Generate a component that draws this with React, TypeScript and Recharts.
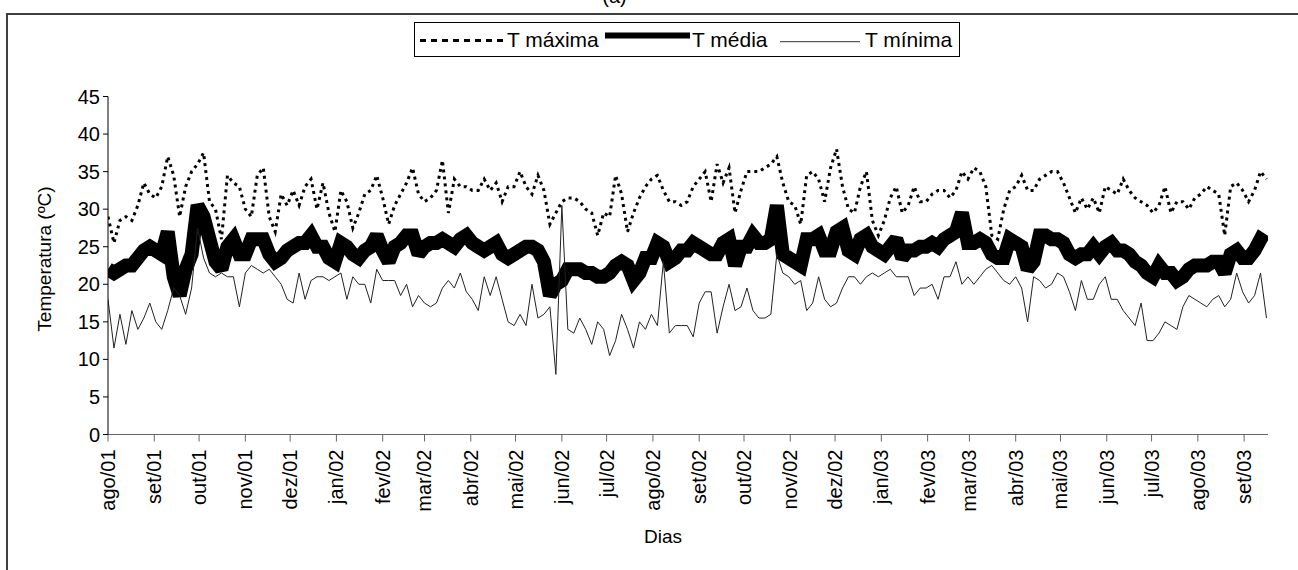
import React from 'react';
import { LineChart, Line, XAxis, YAxis } from 'recharts';

// série começa em 01/ago/2001, um valor a cada 4 dias
const START_YEAR = 2001;
const START_MONTH = 7;
const STEP_DAYS = 4;
const LAST_DAY = 777;

const monthLabels = [
  'ago/01', 'set/01', 'out/01', 'nov/01', 'dez/01', 'jan/02', 'fev/02', 'mar/02', 'abr/02',
  'mai/02', 'jun/02', 'jul/02', 'ago/02', 'set/02', 'out/02', 'nov/02', 'dez/02', 'jan/03',
  'fev/03', 'mar/03', 'abr/03', 'mai/03', 'jun/03', 'jul/03', 'ago/03', 'set/03',
];

const yTicks = [0, 5, 10, 15, 20, 25, 30, 35, 40, 45];

const tMax = [
  29, 25.5, 28.5, 29, 28.5, 30.5, 33.5, 32, 31.5, 33,
  37, 34.5, 29, 33, 35, 36, 37.5, 31, 30, 26,
  34.5, 33.5, 33, 30, 29, 34.5, 35.5, 29, 27, 32,
  30.5, 32.5, 30.5,
  33, 34, 30, 33.5, 29.5, 27, 32.5, 31, 27.5, 29.5,
  32, 32.5, 34.5, 31.5, 28, 30.5, 32, 33.5, 35.5, 32,
  31, 31.5, 32.5, 36.5, 29.5, 34, 33, 33, 32.5, 32.5,
  34,
  32.5, 33.5, 31, 33, 33, 35, 33, 32, 34.5, 32.5,
  28, 29.5, 31, 31.5, 31.5, 31, 30, 29.5, 26.5, 29.5,
  29, 34.5, 32, 27, 29.5, 31.5, 33, 34, 34.5, 32.5,
  31, 31,
  30.5, 31, 33, 34, 35, 31, 36, 33.5, 35.5, 29.5,
  32.5, 35, 35, 35, 35.5, 36, 37, 33.5, 31, 30.5,
  28, 34.5, 35, 34, 31, 35.5, 38, 33, 30, 29.5,
  33, 35,
  28.5, 26.5, 28.5, 31.5, 33, 29.5, 30.5, 33, 31, 31,
  32, 32.5, 32.5, 31.5, 32.5, 35, 34, 35.5, 35, 33,
  26.5, 26, 30, 32.5, 33, 34.5, 32.5, 32.5, 34, 34.5,
  35, 35, 33.5, 31.5, 29.5, 31.5, 30, 31.5, 29.5, 33,
  32.5, 32, 34, 32.5, 31.5, 31, 30.5, 29.5, 30.5, 33,
  29.5, 31, 31, 30, 31.5, 32, 33, 32.5, 32, 26.5,
  33, 33.5, 32.5, 31, 32.5, 35, 34,
];

const tMedia = [
  22, 21.5, 22, 22.5, 22.5, 23.5, 24.5, 25, 24.5, 24,
  27, 21, 18.5, 22, 24, 30.5, 29, 26, 23, 22,
  25, 26, 24, 24, 26, 26, 26, 24, 23, 23.5,
  24.5, 25, 25.5,
  25.5, 26.5, 25, 25, 23.5, 23, 25.5, 25, 24, 23.5,
  24.5, 25, 26.5, 24.5, 23, 25, 25.5, 26.5, 26.5, 24,
  25, 25.5, 25.5, 26, 25.5, 25, 26, 26.5, 25.5, 25,
  24.5,
  25, 25.5, 24, 23.5, 24, 24.5, 25, 25, 24.5, 23,
  18.5, 20, 20.5, 22, 22, 22, 21.5, 21.5, 21, 21,
  21.5, 22.5, 23, 22.5, 20.5, 21.5, 23.5, 23.5, 25.5, 25,
  23, 23.5,
  24.5, 24.5, 25.5, 25, 24.5, 24, 24, 25.5, 26, 22.5,
  25, 25, 26.5, 25.5, 25.5, 26, 30.5, 24, 23.5, 23,
  22.5, 26, 26, 26.5, 24.5, 24.5, 27, 27.5, 24.5, 24,
  26, 26.5,
  25, 24.5, 24, 25, 26, 23.5, 24.5, 24.5, 25, 25,
  25.5, 25, 26, 26.5, 27, 29.5, 25.5, 25.5, 26, 25.5,
  24, 23.5, 23.5, 26, 25.5, 25, 22, 23, 26.5, 26.5,
  26, 26, 25.5, 24, 23.5, 24, 24, 25, 24, 25,
  25.5, 24.5, 24.5, 24, 23, 22.5, 21.5, 21, 22.5, 21.5,
  21.5, 20.5, 21, 22, 22.5, 22.5, 22.5, 23, 23, 21.5,
  24, 24.5, 23.5, 23.5, 24.5, 26, 25.5,
];

const tMin = [
  18, 11.5, 16, 12, 16.5, 14, 15.5, 17.5, 15, 14,
  16.5, 19.5, 18.5, 16, 19.5, 27.5, 23.5, 21.5, 21, 21.5,
  21, 21, 17, 21.5, 22.5, 22, 21.5, 22, 21, 20,
  18, 17.5, 21.5,
  18, 20.5, 21, 21, 20.5, 21, 21.5, 18, 21, 20,
  20, 17.5, 22, 20.5, 20.5, 20.5, 18.5, 20, 17, 18.5,
  17.5, 17, 17.5, 19.5, 20.5, 19.5, 21.5, 19, 18, 16.5,
  21,
  18.5, 21, 18, 15, 14.5, 16, 14.5, 20, 15.5, 16,
  17, 8, 30.5, 14, 13.5, 15.5, 14, 12, 15, 14,
  10.5, 12.5, 16, 14, 11.5, 15, 14, 16, 14.5, 23,
  13.5, 14.5,
  14.5, 14.5, 13, 17.5, 19, 19, 13.5, 17, 20, 16.5,
  17, 19.5, 16.5, 15.5, 15.5, 16, 24, 21.5, 21, 20,
  20.5, 16.5, 17.5, 21, 18, 17, 17.5, 19.5, 21, 21,
  20, 21,
  21.5, 21, 21.5, 22, 21, 21, 21, 18.5, 19.5, 19.5,
  20, 18, 21, 21, 23, 20, 21, 20, 21, 22,
  22.5, 21.5, 20.5, 20, 21, 19.5, 15, 21, 20.5, 19.5,
  20, 21.5, 21, 19, 16.5, 20.5, 18, 18, 20, 21,
  18, 18, 16.5, 15.5, 14.5, 17.5, 12.5, 12.5, 13.5, 15,
  14.5, 14, 17, 18.5, 18, 17.5, 17, 18, 18.5, 17,
  18, 21.5, 19, 17.5, 18.5, 21.5, 15.5,
];

const FONT = '"Liberation Sans", Arial, Helvetica, sans-serif';

const dayOfMonthStart = (i: number) =>
  Math.round((Date.UTC(START_YEAR, START_MONTH + i, 1) - Date.UTC(START_YEAR, START_MONTH, 1)) / 86400000);

const monthTicks = monthLabels.map((_, i) => dayOfMonthStart(i));

const chartData = tMax.map((v, i) => ({
  day: i * STEP_DAYS,
  max: v,
  media: tMedia[i],
  min: tMin[i],
}));

const MonthTick = (props: any) => {
  const { x, y, payload } = props;
  const idx = monthTicks.indexOf(payload.value);
  return (
    <g transform={`translate(${x},${y})`}>
      <text
        transform="rotate(-90)"
        textAnchor="end"
        dy="0.35em"
        fontSize={20}
        fontFamily={FONT}
        fill="#000"
      >
        {monthLabels[idx]}
      </text>
    </g>
  );
};

export default function App() {
  return (
    <div style={{ position: 'fixed', left: 0, top: 0, width: 1298, height: 570, overflow: 'hidden', background: '#fff' }}>
      <div style={{ position: 'absolute', left: 0, top: 0 }}>
        <LineChart
          width={1298}
          height={570}
          data={chartData}
          margin={{ top: 96.5, right: 30, left: 0, bottom: 35.5 }}
          style={{ fontFamily: FONT }}
        >
          <XAxis
            type="number"
            dataKey="day"
            domain={[0, LAST_DAY]}
            ticks={monthTicks}
            interval={0}
            tick={MonthTick}
            tickSize={7}
            tickMargin={8}
            height={100}
            stroke="#666"
            allowDataOverflow
          />
          <YAxis
            domain={[0, 45]}
            ticks={yTicks}
            interval={0}
            width={108}
            tickSize={5}
            tickMargin={3}
            tick={{ fontSize: 20, fill: '#000', fontFamily: FONT }}
            stroke="#000"
          />
          <Line
            type="linear"
            dataKey="max"
            stroke="#000"
            strokeWidth={3}
            strokeDasharray="3 4"
            dot={false}
            isAnimationActive={false}
          />
          <Line
            type="linear"
            dataKey="media"
            stroke="#000"
            strokeWidth={14}
            strokeLinejoin="miter"
            strokeMiterlimit={2}
            dot={false}
            isAnimationActive={false}
          />
          <Line
            type="linear"
            dataKey="min"
            stroke="#222"
            strokeWidth={1}
            dot={false}
            isAnimationActive={false}
          />
        </LineChart>
      </div>
      <svg
        width={1298}
        height={570}
        style={{ position: 'absolute', left: 0, top: 0, pointerEvents: 'none' }}
        fontFamily={FONT}
      >
        <rect x={7} y={14} width={1400} height={700} fill="none" stroke="#404040" strokeWidth={2} />
        <text x={614.5} y={3} textAnchor="middle" fontSize={20} fill="#000">(a)</text>

        <rect x={414.5} y={22.5} width={545} height={34} fill="#fff" stroke="#000" strokeWidth={1} />
        <line x1={420} x2={505} y1={40.5} y2={40.5} stroke="#000" strokeWidth={3} strokeDasharray="6 5" />
        <text x={507} y={46.5} fontSize={21} fill="#000">T máxima</text>
        <line x1={605} x2={690} y1={35.5} y2={35.5} stroke="#000" strokeWidth={6} />
        <text x={692} y={46.5} fontSize={21} fill="#000">T média</text>
        <line x1={780} x2={860} y1={41.7} y2={41.7} stroke="#333" strokeWidth={1} />
        <text x={865} y={46.5} fontSize={21} fill="#000">T mínima</text>

        <text x={51} y={259} transform="rotate(-90 51 259)" textAnchor="middle" fontSize={19} fill="#000">
          Temperatura (ºC)
        </text>
        <text x={663} y={543} textAnchor="middle" fontSize={19} fill="#000">Dias</text>
      </svg>
    </div>
  );
}
